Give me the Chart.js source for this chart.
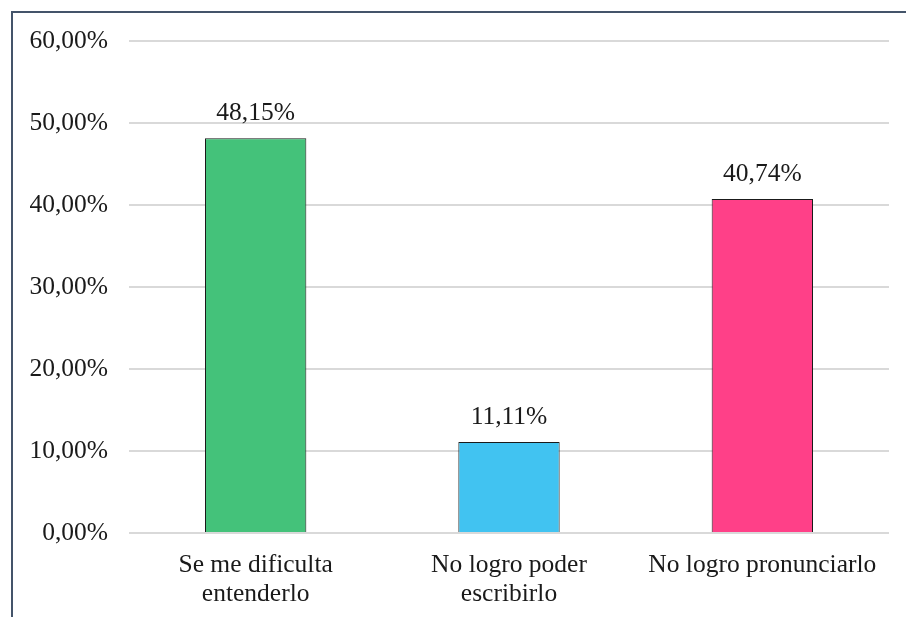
<!DOCTYPE html>
<html>
<head>
<meta charset="utf-8">
<script src="https://cdn.jsdelivr.net/npm/chart.js@4"></script>
<style>
html,body{margin:0;padding:0;background:#fff;overflow:hidden;}
#wrap{position:relative;width:906px;height:617px;}
#frame{position:absolute;left:11px;top:11px;width:1000px;height:1000px;border:2px solid #44546A;box-sizing:border-box;}
canvas{position:absolute;left:0;top:0;}
</style>
</head>
<body>
<div id="wrap">
<div id="frame"></div>
<canvas id="c" width="906" height="617"></canvas>
</div>
<script>
const categories = [['Se me dificulta','entenderlo'], ['No logro poder','escribirlo'], 'No logro pronunciarlo'];
const values = [48.15, 11.11, 40.74];
const barColors = ['#44C27A', '#41C3F1', '#FF4088'];
const yTicks = [0, 10, 20, 30, 40, 50, 60];

const fmt = v => v.toFixed(2).replace('.', ',') + '%';
const FONT = '"Liberation Serif", "Times New Roman", serif';

const labelPlugin = {
  id: 'valueLabels',
  afterDatasetsDraw(chart) {
    const ctx = chart.ctx;
    const meta = chart.getDatasetMeta(0);
    ctx.save();
    ctx.font = '25.5px ' + FONT;
    ctx.fillStyle = '#1a1a1a';
    ctx.textAlign = 'center';
    ctx.textBaseline = 'middle';
    meta.data.forEach((bar, i) => {
      ctx.fillText(fmt(values[i]), bar.x, bar.y - 25);
    });
    ctx.restore();
  }
};

new Chart(document.getElementById('c'), {
  type: 'bar',
  data: {
    labels: categories,
    datasets: [{
      data: values,
      backgroundColor: barColors,
      borderColor: '#1a1a1a',
      borderWidth: 1,
      barPercentage: 0.4,
      categoryPercentage: 1.0
    }]
  },
  options: {
    responsive: false,
    animation: false,
    devicePixelRatio: 1,
    layout: { padding: { top: 41, right: 17, bottom: 0, left: 0 } },
    plugins: { legend: { display: false }, tooltip: { enabled: false } },
    scales: {
      y: {
        min: 0, max: 60,
        afterFit(s) { s.width = 129; },
        afterBuildTicks(s) { s.ticks = yTicks.map(v => ({ value: v })); },
        border: { display: false },
        grid: { color: '#D9D9D9', lineWidth: 2, drawTicks: false },
        ticks: {
          padding: 21,
          color: '#1a1a1a',
          font: { family: FONT, size: 25.5 },
          callback: v => fmt(v)
        }
      },
      x: {
        afterFit(s) { s.height = 84; },
        border: { display: false },
        grid: { display: false, drawTicks: false },
        ticks: {
          padding: 18,
          color: '#1a1a1a',
          maxRotation: 0,
          autoSkip: false,
          font: { family: FONT, size: 25.5, lineHeight: 1.14 }
        }
      }
    }
  },
  plugins: [labelPlugin]
});
</script>
</body>
</html>
